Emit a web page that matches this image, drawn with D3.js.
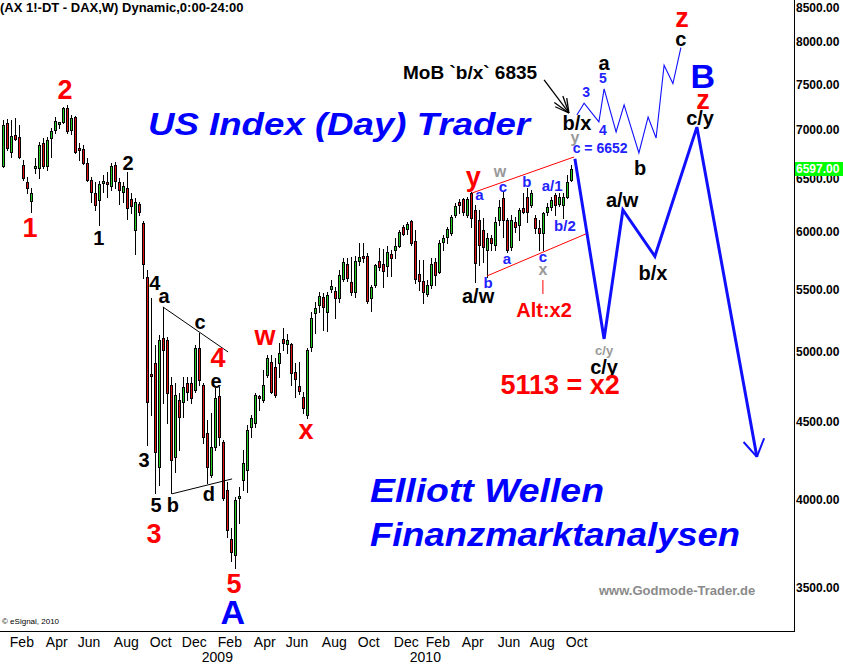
<!DOCTYPE html>
<html><head><meta charset="utf-8">
<script src="https://cdn.jsdelivr.net/npm/d3@7"></script>
<style>body{margin:0;background:#fff}svg{display:block}</style>
</head><body><svg id="c" width="843" height="664"></svg>
<script>
// ---------- DATA ----------
const startWeek = "2008-01-28";
const opens  = [6627,7074,6770,6946,6925,6637,6469,6286,6608,6607,6863,6627,6915,6999,7063,7085,7237,6999,7138,6811,
6800,6658,6488,6362,6295,6459,6469,6430,6637,6469,6372,6410,6305,6015,6257,6079,5601,4836,4918,4200,
5107,5092,4756,4264,4649,4635,4770,4770,4720,5030,4756,4423,4150,4330,4677,4363,4057,3767,3676,4008,
4119,4181,4463,4490,4677,4649,4829,4925,4888,4918,5100,5061,5061,4851,4749,4670,4545,5038,5305,5369,
5435,5313,5501,5485,5426,5584,5713,5559,5476,5739,5783,5783,5426,5534,5739,5713,5696,5801,5836,5871,
6043,6024,6098,5916,5627,5568,5459,5534,5730,5645,5907,5952,5988,6153,6276,6305,6153,6362,6200,6107,
6015,5836,5943,5880,6107,6314,6107,5863,6088,6061,6219,6324,6248,6125,6034,5988,6181,6229,6343,6257,
6248,6324,6488];
const highs  = [7106,7117,7106,7127,7052,6688,6518,6410,6708,6873,6915,6925,7020,7138,7085,7248,7270,7160,7150,6863,
6842,6708,6518,6469,6478,6537,6567,6658,6668,6508,6469,6567,6362,6314,6276,6098,5662,5426,5053,5131,
5353,5115,4814,4770,4699,4814,4814,4814,5053,5146,4770,4511,4559,4735,4742,4376,4107,3830,4014,4075,
4310,4477,4545,4699,4684,4865,4977,4977,4955,5069,5185,5138,5069,4918,4925,4706,5030,5313,5394,5476,
5468,5476,5576,5518,5662,5765,5765,5774,5783,5898,5898,5810,5534,5713,5854,5845,5871,5836,5943,6015,
6061,6088,6107,6015,5748,5748,5576,5765,5765,5925,5970,6043,6153,6267,6305,6314,6324,6372,6248,6200,
6125,5988,5970,6135,6295,6372,6125,6153,6135,6219,6362,6410,6391,6153,6107,6181,6267,6324,6362,6362,
6362,6537,6637];
const lows   = [6617,6790,6719,6894,6708,6488,6362,6181,6557,6508,6607,6587,6719,6967,7020,7074,6967,6957,6759,6688,
6648,6478,6276,6200,6061,6372,6324,6391,6410,6257,6276,6116,6172,5801,6153,5593,4343,4545,4039,4088,
4628,4490,4039,4169,4310,4532,4649,4628,4706,4756,4356,4100,4137,4310,4343,3996,3778,3642,3604,3858,
4057,4045,4396,4463,4580,4635,4814,4699,4670,4814,5015,4993,4756,4670,4692,4559,4525,5008,5146,5313,
5170,5162,5476,5264,5394,5568,5568,5451,5435,5705,5730,5386,5321,5518,5662,5518,5610,5610,5765,5863,
5970,5979,5880,5551,5493,5386,5443,5509,5534,5636,5836,5898,5970,6135,6172,6153,6135,6043,5559,5705,
5730,5601,5836,5836,6061,5952,5818,5836,5997,5925,6172,6088,6229,5988,5836,5836,6153,6200,6153,6238,
6125,6314,6478];
const closes = [7052,6811,6936,6904,6719,6508,6410,6362,6627,6842,6627,6894,6988,7095,7085,7237,6988,7127,6770,6790,
6658,6488,6372,6248,6449,6478,6449,6627,6478,6391,6430,6219,6238,6276,6181,5713,4635,4821,4297,5092,
5015,4699,4245,4684,4532,4742,4706,4663,5030,4792,4396,4200,4330,4663,4396,4008,3818,3693,3996,4020,
4226,4443,4525,4684,4663,4756,4955,4706,4684,4993,5069,5092,4843,4799,4713,4594,5015,5264,5345,5443,
5353,5451,5526,5426,5619,5730,5593,5476,5739,5774,5765,5402,5518,5705,5688,5653,5818,5765,5871,5997,
5979,6070,5898,5584,5568,5476,5534,5713,5619,5898,5943,6024,6135,6238,6248,6181,6305,6125,5722,5880,
5863,5943,5898,6088,6229,6107,5836,6107,6043,6200,6181,6181,6362,6034,5988,6172,6229,6295,6248,6324,
6324,6469,6597];
const lastPrice = 6597;

const yTicks = [3500,4000,4500,5000,5500,6000,6500,7000,7500,8000,8500];
const xTickDates  = ["2008-02-04","2008-04-07","2008-06-02","2008-08-04","2008-10-06","2008-12-01","2009-02-02","2009-04-06","2009-06-01",
                     "2009-08-03","2009-10-05","2009-12-07","2010-02-01","2010-04-05","2010-06-07","2010-08-02","2010-10-04"];
const xTickLabels = ["Feb","Apr","Jun","Aug","Oct","Dec","Feb","Apr","Jun","Aug","Oct","Dec","Feb","Apr","Jun","Aug","Oct"];
const yearDates  = ["2009-01-05","2010-01-04"];
const yearLabels = ["2009","2010"];

// forecast paths (week index, price)
const mainPathIdx = [142.9,150.2,154.9,162.9,173.4,188.4];
const mainPathVal = [6700,5100,6200,5780,7030,4265];
const altPathIdx  = [143.4,145.2,148.9,150.2,153.2,155.2,158.9,161.2,163.2,165.2,167.4,169.4];
const altPathVal  = [7160,7290,7085,7450,6978,7270,6760,7138,6915,7720,7510,7930];
// channel / triangle lines: [i1, v1, i2, v2]
const redLines   = [[117.2,6362,142.7,6719],[120.9,5610,146.2,5988],[134.9,5576,134.9,5459]];
const blackLines = [[39.9,5353,56.2,5000],[42.2,4033,57.2,4125]];
const mobArrow   = [135.2,7551,141.4,7182];

// wave labels: text, week index, price, style key
const waveLabels = [
 ["2",15.4,7437,"red"],["1",6.7,6033,"red"],["2",31.2,6658,"blk"],["1",23.9,5943,"blk"],
 ["4",37.9,5551,"blk"],["a",40.2,5443,"blk"],["c",49.2,5233,"blk"],["4",53.7,4955,"red"],["e",53.2,4785,"blk"],
 ["3",35.2,4245,"blk"],["5",38.2,3966,"blk"],["b",42.4,3966,"blk"],["d",51.4,4033,"blk"],["3",37.7,3795,"red"],
 ["5",57.7,3518,"red"],["A",57.4,3372,"bigBlue"],["w",65.4,5123,"red"],["x",75.7,4443,"red"],
 ["y",117.5,6520,"red"],["a",119.0,6350,"blu"],["w",124.2,6570,"gry"],["c",124.9,6420,"blu"],["b",130.9,6478,"blu"],
 ["a/1",137.2,6430,"blu"],["b/2",140.4,6052,"blu"],["a",125.9,5765,"blu"],["c",134.9,5774,"blu"],["x",134.9,5662,"gry"],
 ["b",121.2,5559,"blu"],["a/w",118.7,5443,"blk"],["Alt:x2",135.2,5329,"redMid"],
 ["MoB `b/x` 6835",116.7,7642,"mob"],["b/x",143.4,7075,"blk"],["y",142.9,6915,"gry"],["c = 6652",149.2,6811,"bluMid"],
 ["3",145.7,7414,"bluMid"],["a",150.2,7747,"blk"],["5",149.9,7573,"bluMid"],["4",149.9,6999,"bluMid"],["b",159.2,6607,"blk"],
 ["z",169.7,8290,"red"],["c",169.4,8040,"blk"],["B",174.9,7596,"bigBlue"],["z",174.9,7330,"red"],["c/y",174.2,7130,"blk"],
 ["a/w",154.7,6295,"blk"],["b/x",162.4,5636,"blk"],["c/y",150.2,5008,"gryS"],["c/y",150.2,4888,"blk"],
 ["5113 = x2",139.2,4756,"redBig"]
];

// ---------- STYLES ----------
const FONT = "'Liberation Sans', Arial, sans-serif";
const NARROW = "'Liberation Sans Narrow', 'Arial Narrow', " + FONT;
const labelStyle = {
  red:{fill:"#ff0000",size:27}, redBig:{fill:"#ff0000",size:27}, redMid:{fill:"#ff0000",size:20},
  blk:{fill:"#000000",size:20}, mob:{fill:"#000000",size:19},
  blu:{fill:"#2222ff",size:15}, bluMid:{fill:"#2222ff",size:14},
  gry:{fill:"#999999",size:16}, gryS:{fill:"#999999",size:13},
  bigBlue:{fill:"#0000ff",size:34}
};
const W = 843, H = 664, plotR = 794, plotB = 631;
const GREEN = "#22cc22", RED = "#dd1111";

// ---------- SCALES ----------
const x = d3.scaleLinear().domain([0,1]).range([3.3,7.3]);
const y = d3.scaleLog().domain([3276,8523]).range([plotB,0]);
const parse = d3.utcParse("%Y-%m-%d");
const t0 = parse(startWeek);
const weekIdx = s => d3.utcMonday.count(t0, parse(s));

const svg = d3.select("#c");
svg.append("rect").attr("width",W).attr("height",H).attr("fill","#fff");

const plot = svg.append("g");
plot.append("clipPath").attr("id","clip").append("rect").attr("x",0).attr("y",0).attr("width",plotR).attr("height",plotB);

// ---------- CANDLES ----------
const cg = plot.append("g").attr("clip-path","url(#clip)");
const candles = opens.map((o,i)=>({i,o,h:highs[i],l:lows[i],c:closes[i]}));
candles.forEach(d=>{
  const cx = Math.round(x(d.i));
  cg.append("line").attr("x1",cx+0.5).attr("x2",cx+0.5)
    .attr("y1",Math.round(y(d.h))).attr("y2",Math.round(y(d.l))+1)
    .attr("stroke","#000").attr("stroke-width",1);
  const top = Math.round(y(Math.max(d.o,d.c))), bot = Math.round(y(Math.min(d.o,d.c)));
  if (bot - top < 1) {
    cg.append("line").attr("x1",cx-1).attr("x2",cx+2).attr("y1",top+0.5).attr("y2",top+0.5)
      .attr("stroke","#000");
  } else {
    cg.append("rect").attr("x",cx-0.5).attr("y",top+0.5).attr("width",2).attr("height",bot-top)
      .attr("fill", d.c>=d.o?GREEN:RED).attr("stroke","#000").attr("stroke-width",1);
  }
});

// ---------- LINES ----------
const lg = plot.append("g");
redLines.forEach(l=>lg.append("line").attr("x1",x(l[0])).attr("y1",y(l[1])).attr("x2",x(l[2])).attr("y2",y(l[3]))
  .attr("stroke","#ff0000").attr("stroke-width",1));
blackLines.forEach(l=>lg.append("line").attr("x1",x(l[0])).attr("y1",y(l[1])).attr("x2",x(l[2])).attr("y2",y(l[3]))
  .attr("stroke","#000").attr("stroke-width",1));

const line = d3.line().x(d=>x(d[0])).y(d=>y(d[1]));
lg.append("path").attr("d",line(altPathIdx.map((v,k)=>[v,altPathVal[k]])))
  .attr("fill","none").attr("stroke","#1010ff").attr("stroke-width",1.1);
lg.append("path").attr("d",line(mainPathIdx.map((v,k)=>[v,mainPathVal[k]])))
  .attr("fill","none").attr("stroke","#1010ff").attr("stroke-width",3).attr("stroke-linejoin","miter");

function arrowHead(g,x1,y1,x2,y2,len,ang,color,w){
  const a = Math.atan2(y2-y1,x2-x1);
  [ang,-ang].forEach(s=>{
    g.append("line").attr("x1",x2).attr("y1",y2)
      .attr("x2",x2-len*Math.cos(a+s)).attr("y2",y2-len*Math.sin(a+s))
      .attr("stroke",color).attr("stroke-width",w);
  });
}
{
  const n = mainPathIdx.length;
  arrowHead(lg, x(mainPathIdx[n-2]),y(mainPathVal[n-2]),x(mainPathIdx[n-1]),y(mainPathVal[n-1]),20,0.55,"#1010ff",2);
  const [ai1,av1,ai2,av2] = mobArrow;
  lg.append("line").attr("x1",x(ai1)).attr("y1",y(av1)).attr("x2",x(ai2)).attr("y2",y(av2)).attr("stroke","#000").attr("stroke-width",1.3);
  arrowHead(lg, x(ai1),y(av1),x(ai2),y(av2),18,0.3,"#000",1.3);
  arrowHead(lg, x(ai1),y(av1),x(ai2),y(av2),15,0.5,"#000",1.3);
}

// ---------- LABELS ----------
const tg = svg.append("g").attr("font-family",FONT).attr("font-weight","bold");
waveLabels.forEach(([t,i,v,s])=>{
  const st = labelStyle[s];
  tg.append("text").attr("x",x(i)).attr("y",y(v)).attr("text-anchor","middle")
    .attr("dominant-baseline","central").attr("font-size",st.size).attr("fill",st.fill).text(t);
});

// big captions
svg.append("text").attr("x",148).attr("y",135).attr("font-family",FONT).attr("font-weight","bold").attr("font-style","italic")
  .attr("font-size",32).attr("fill","#0000ff").attr("textLength",382).attr("lengthAdjust","spacingAndGlyphs").text("US Index (Day) Trader");
svg.append("text").attr("x",370).attr("y",502).attr("font-family",FONT).attr("font-weight","bold").attr("font-style","italic")
  .attr("font-size",34).attr("fill","#0000ff").attr("textLength",234).attr("lengthAdjust","spacingAndGlyphs").text("Elliott Wellen");
svg.append("text").attr("x",370).attr("y",546).attr("font-family",FONT).attr("font-weight","bold").attr("font-style","italic")
  .attr("font-size",34).attr("fill","#0000ff").attr("textLength",370).attr("lengthAdjust","spacingAndGlyphs").text("Finanzmarktanalysen");
svg.append("text").attr("x",599).attr("y",595).attr("font-family",FONT).attr("font-weight","bold")
  .attr("font-size",13).attr("fill","#8a8a8a").text("www.Godmode-Trader.de");
svg.append("text").attr("x",2).attr("y",624).attr("font-family",NARROW)
  .attr("font-size",8).attr("fill","#000").text("© eSignal, 2010");
svg.append("text").attr("x",0).attr("y",12).attr("font-family",FONT).attr("font-weight","bold")
  .attr("font-size",13).attr("fill","#000").text("(AX 1!-DT - DAX,W) Dynamic,0:00-24:00");

// ---------- AXES ----------
const yAxis = svg.append("g").attr("transform",`translate(${plotR},0)`)
  .call(d3.axisRight(y).tickValues(yTicks).tickFormat(d3.format(".2f")).tickSize(0).tickPadding(2));
yAxis.select(".domain").remove();
yAxis.selectAll("text").attr("font-family",FONT).attr("font-weight","bold").attr("font-size",12).attr("fill","#000")
  .attr("dy",null).attr("dominant-baseline","central")
  .attr("y",d=>Math.max(y(d),7)-y(d));

// last price box
const ly = y(lastPrice);
svg.append("rect").attr("x",plotR+1).attr("y",Math.round(ly)-7).attr("width",W-plotR-1).attr("height",14).attr("fill","#00ff00");
svg.append("text").attr("x",plotR+2).attr("y",Math.round(ly)).attr("dominant-baseline","central")
  .attr("font-family",FONT).attr("font-weight","bold").attr("font-size",12).attr("fill","#fff").text(d3.format(".2f")(lastPrice));

const xTickIdx = xTickDates.map(weekIdx);
const xAxis = svg.append("g").attr("transform",`translate(0,${plotB})`)
  .call(d3.axisBottom(x).tickValues(xTickIdx).tickFormat((d,k)=>xTickLabels[k]).tickSize(0));
xAxis.select(".domain").remove();
xAxis.selectAll("text").attr("font-family",NARROW).attr("font-size",14).attr("fill","#000")
  .attr("text-anchor","start").attr("dx",2).attr("dy",null).attr("y",16);
const yrIdx = yearDates.map(weekIdx);
const yrAxis = svg.append("g").attr("transform",`translate(0,${plotB})`)
  .call(d3.axisBottom(x).tickValues(yrIdx).tickFormat((d,k)=>yearLabels[k]).tickSize(0));
yrAxis.select(".domain").remove();
yrAxis.selectAll("text").attr("font-family",NARROW).attr("font-size",14).attr("fill","#000")
  .attr("text-anchor","start").attr("dx",2).attr("dy",null).attr("y",31);

// frame
svg.append("line").attr("x1",plotR+0.5).attr("x2",plotR+0.5).attr("y1",0).attr("y2",plotB+1).attr("stroke","#000");
svg.append("line").attr("x1",0).attr("x2",plotR+1).attr("y1",plotB+0.5).attr("y2",plotB+0.5).attr("stroke","#000");
</script></body></html>
